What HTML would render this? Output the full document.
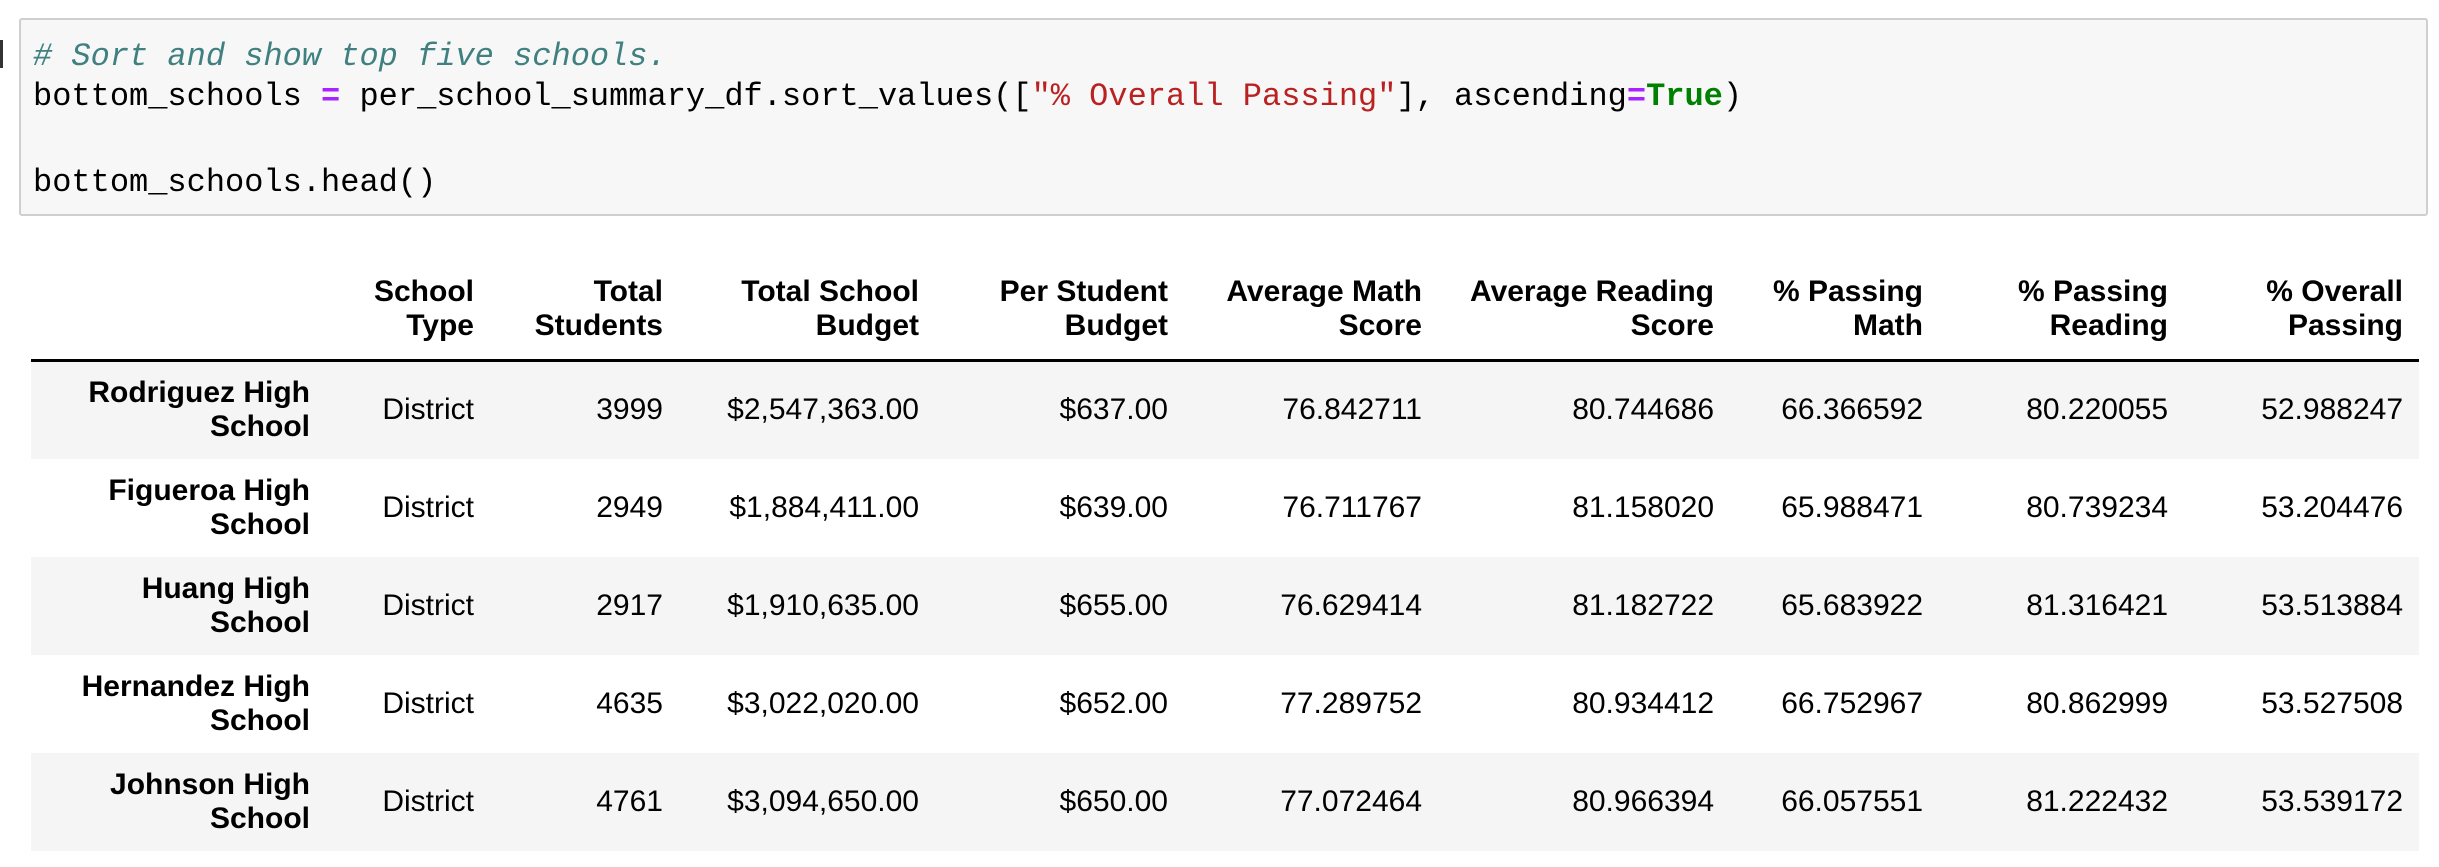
<!DOCTYPE html>
<html><head><meta charset="utf-8"><style>
body{margin:0;width:2439px;height:867px;background:#fff;position:relative;overflow:hidden;font-family:"Liberation Sans",Arial,sans-serif;}
.prompt{position:absolute;left:0;top:40px;width:3px;height:28px;background:#333;}
.code{position:absolute;left:19px;top:18px;width:2409px;height:198px;background:#f7f7f7;border:2px solid #cfcfcf;border-radius:3px;box-sizing:border-box;}
.ln{position:absolute;left:12px;font-family:"Liberation Mono",monospace;font-size:32px;line-height:40px;white-space:pre;color:#000;}
.cm{color:#408080;font-style:italic;}
.op{color:#aa22ff;font-weight:bold;}
.st{color:#ba2121;}
.kw{color:#008000;font-weight:bold;}
.c{position:absolute;text-align:right;font-size:30px;line-height:34px;color:#000;white-space:nowrap;}
.h{font-weight:bold;}
.row{position:absolute;left:31px;width:2388px;height:98px;}
.g{background:#f5f5f5;}
.rule{position:absolute;left:31px;top:359px;width:2388px;height:3px;background:#000;}
</style></head><body>
<div class="prompt"></div>
<div class="code">
<div class="ln" style="top:17px"><span class="cm"># Sort and show top five schools.</span></div>
<div class="ln" style="top:57px">bottom_schools <span class="op">=</span> per_school_summary_df.sort_values([<span class="st">"% Overall Passing"</span>], ascending<span class="op">=</span><span class="kw">True</span>)</div>
<div class="ln" style="top:143px">bottom_schools.head()</div>
</div>

<div class="row g" style="top:361px"></div>
<div class="row g" style="top:557px"></div>
<div class="row g" style="top:753px"></div>
<div class="rule"></div>

<div id="t"></div>
<script>
const rights=[310,474,663,919,1168,1422,1714,1923,2168,2403];
const headers=[["",""],["School","Type"],["Total","Students"],["Total School","Budget"],["Per Student","Budget"],["Average Math","Score"],["Average Reading","Score"],["% Passing","Math"],["% Passing","Reading"],["% Overall","Passing"]];
const names=[["Rodriguez High","School"],["Figueroa High","School"],["Huang High","School"],["Hernandez High","School"],["Johnson High","School"]];
const rows=[
["District","3999","$2,547,363.00","$637.00","76.842711","80.744686","66.366592","80.220055","52.988247"],
["District","2949","$1,884,411.00","$639.00","76.711767","81.158020","65.988471","80.739234","53.204476"],
["District","2917","$1,910,635.00","$655.00","76.629414","81.182722","65.683922","81.316421","53.513884"],
["District","4635","$3,022,020.00","$652.00","77.289752","80.934412","66.752967","80.862999","53.527508"],
["District","4761","$3,094,650.00","$650.00","77.072464","80.966394","66.057551","81.222432","53.539172"]];
const t=document.getElementById('t');
function cell(html,right,top,bold,name){const d=document.createElement('div');d.className='c'+(bold?' h':'');d.style.right=(2439-right)+'px';d.style.top=top+'px';d.innerHTML=html;


t.appendChild(d);}
headers.forEach((h,i)=>{if(i>0)cell(h[0]+'<br>'+h[1],rights[i],275,true,'column-header');});
names.forEach((n,r)=>{const top=361+r*98;cell(n[0]+'<br>'+n[1],rights[0],top+15,true,'row-index-label');
rows[r].forEach((v,j)=>cell(v,rights[j+1],top+32,false,'table-cell'));});
</script>
</body></html>
